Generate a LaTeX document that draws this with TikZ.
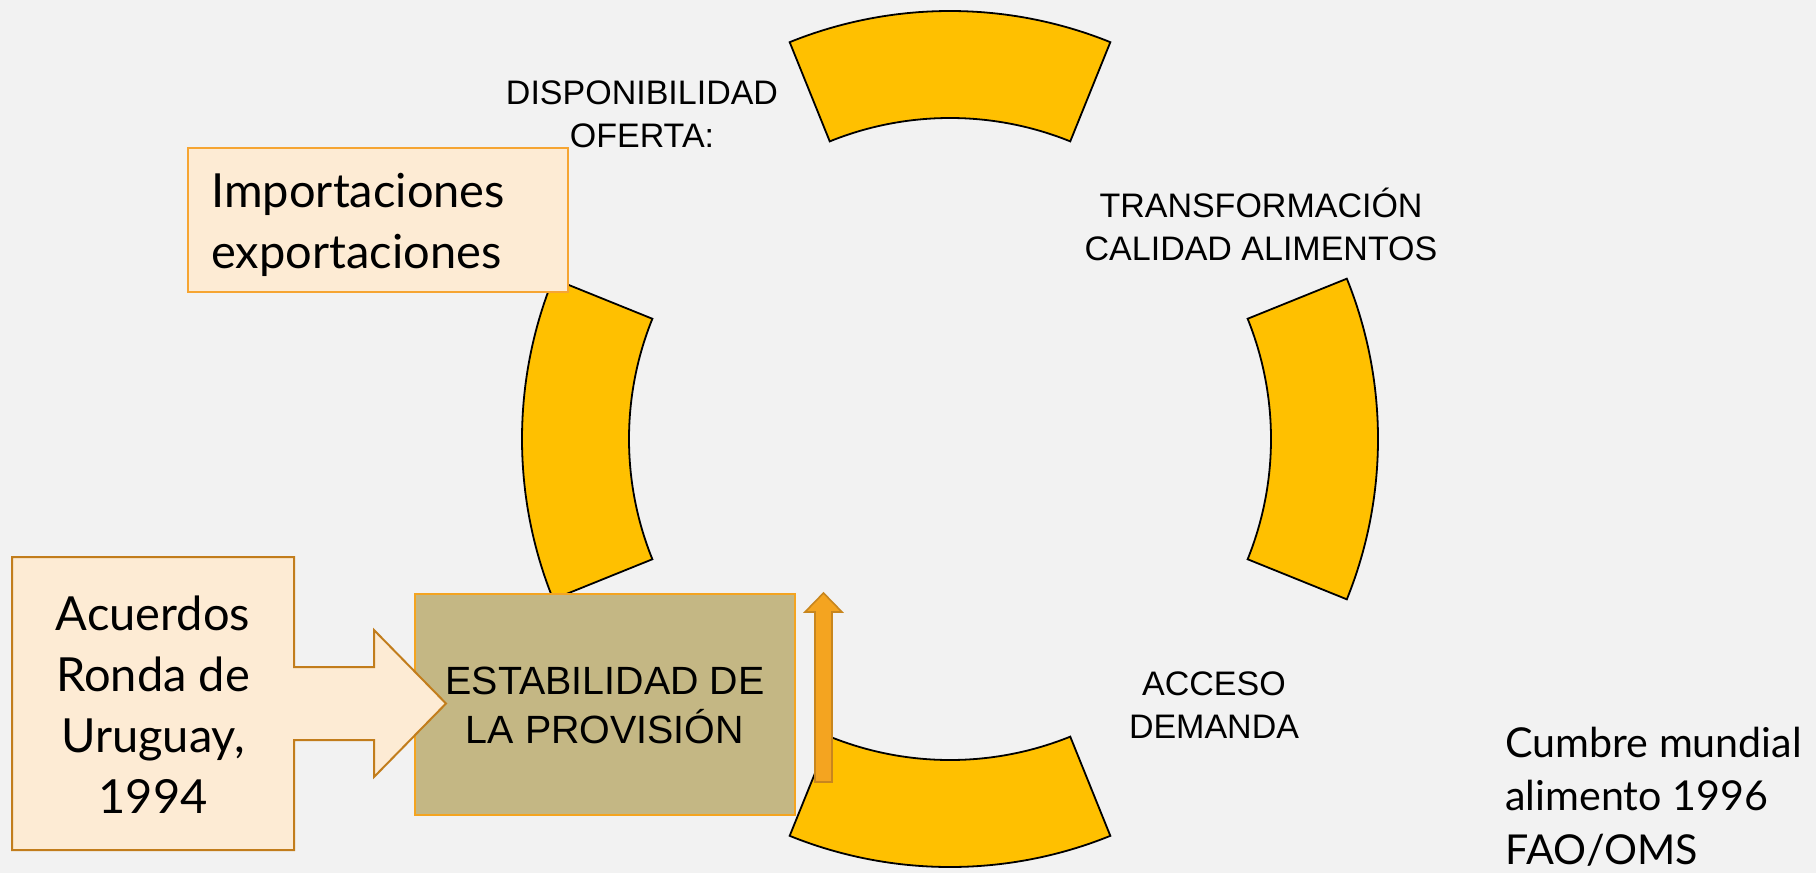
\documentclass[tikz,border=0pt]{standalone}
\usepackage{fontspec}
\setmainfont{Lato}
\newfontfamily\arialf{Liberation Sans}
\usetikzlibrary{calc}
\definecolor{bg}{HTML}{F2F2F2}
\definecolor{gold}{HTML}{FFC000}
\definecolor{peach}{HTML}{FDEBD4}
\definecolor{lborder}{HTML}{F6A532}
\definecolor{dborder}{HTML}{C27D1C}
\definecolor{khaki}{HTML}{C4B784}
\definecolor{oarrow}{HTML}{F4A420}
\definecolor{oarrowb}{HTML}{C8861E}
\begin{document}
\begin{tikzpicture}[x=0.5pt,y=-0.5pt,
  seg/.style={fill=gold,draw=black,line width=0.9pt,line join=miter},
  lbl/.style={font=\arialf\fontsize{17}{21.5}\selectfont,inner sep=0,anchor=base},
  gill/.style={inner sep=0,font=\fontsize{23.5}{30.5}\selectfont},
  peachbox/.style={fill=peach,line width=1pt}]
\fill[bg] (0,0) rectangle (1816,873);
\useasboundingbox (0,0) rectangle (1816,873);
\coordinate (c) at (950,439);
\foreach \a in {0,90,180,270}{
  \draw[seg] ($(c)+(\a-22:214pt)$) arc[start angle=\a-22,end angle=\a+22,radius=214pt]
    -- ($(c)+(\a+22:160.5pt)$) arc[start angle=\a+22,end angle=\a-22,radius=160.5pt] -- cycle;
}
% Importaciones box
\draw[peachbox,draw=lborder] (188,148) rectangle (568,292);
\node[gill,anchor=base west] (imp) at (211,207)
  {\begin{tabular}[t]{@{}l@{}}Importaciones\\exportaciones\end{tabular}};
% Estabilidad box
\draw[fill=khaki,draw=oarrow,line width=0.8pt] (415,594) rectangle (795,815);
\node[lbl,font=\arialf\fontsize{19.7}{24.5}\selectfont] (est) at (605,694)
  {\begin{tabular}[t]{@{}c@{}}ESTABILIDAD DE\\LA PROVISIÓN\end{tabular}};
% Acuerdos callout
\draw[peachbox,draw=dborder,line join=miter] (12,557) -- (294,557) -- (294,667) -- (374,667) -- (374,630)
  -- (446,703.5) -- (374,777) -- (374,740) -- (294,740) -- (294,850) -- (12,850) -- cycle;
\node[gill,anchor=base] (acu) at (153,630)
  {\begin{tabular}[t]{@{}c@{}}Acuerdos\\Ronda de\\Uruguay,\\1994\end{tabular}};
% up arrow
\draw[fill=oarrow,draw=oarrowb,line width=0.8pt,line join=miter] (815,782) -- (815,612) -- (805,612)
  -- (823.5,593) -- (842,612) -- (832,612) -- (832,782) -- cycle;
% labels
\node[lbl] (disp) at (642,104)
  {\begin{tabular}[t]{@{}c@{}}DISPONIBILIDAD\\OFERTA:\end{tabular}};
\node[lbl] (trans) at (1261,217)
  {\begin{tabular}[t]{@{}c@{}}TRANSFORMACIÓN\\CALIDAD ALIMENTOS\end{tabular}};
\node[lbl] (acc) at (1214,695)
  {\begin{tabular}[t]{@{}c@{}}ACCESO\\DEMANDA\end{tabular}};
\node[inner sep=0,anchor=base west,font=\fontsize{20.6}{26.75}\selectfont] (cum) at (1505,757)
  {\begin{tabular}[t]{@{}l@{}}Cumbre mundial\\alimento 1996\\FAO/OMS\end{tabular}};
\end{tikzpicture}
\end{document}
